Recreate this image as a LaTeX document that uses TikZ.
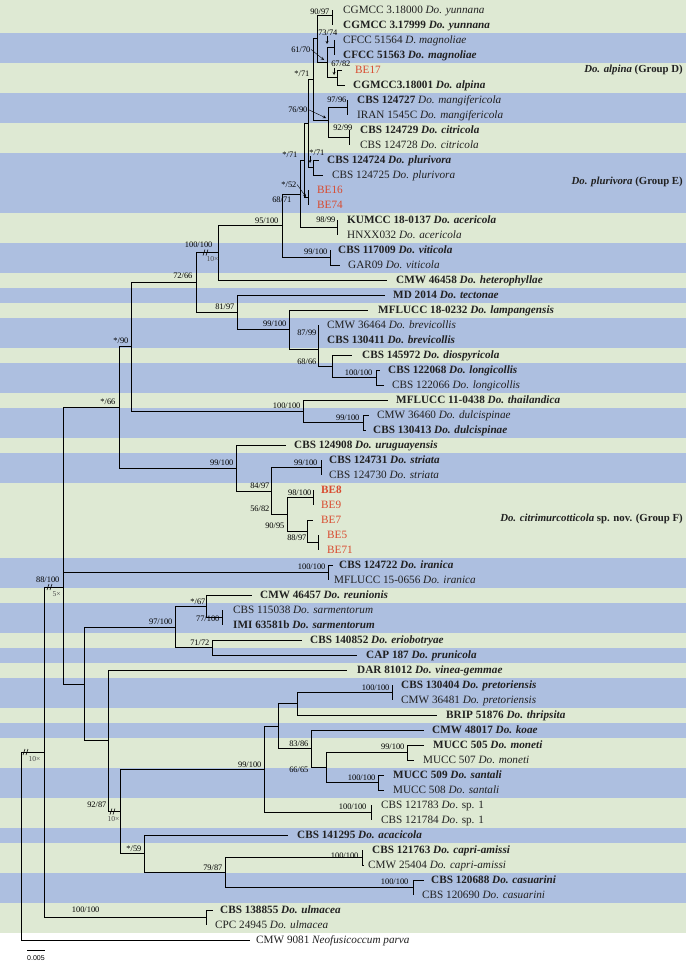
\documentclass[tikz,border=0pt]{standalone}
\usepackage{fontspec}
\setmainfont{Liberation Serif}
\setsansfont{Liberation Sans}
\newlength{\du}
\setlength{\du}{1\unitlength}
\definecolor{bandgreen}{rgb}{0.870, 0.914, 0.827}
\definecolor{bandblue}{rgb}{0.678, 0.749, 0.878}
\definecolor{isored}{rgb}{0.851, 0.290, 0.180}
\definecolor{txtgray}{rgb}{0.130, 0.130, 0.130}

\begin{document}
\begin{tikzpicture}[
  br/.style={line width=0.8pt, draw=black},
  lf/.style={anchor=west, inner sep=0pt, text height=8pt, text depth=1pt, text=txtgray, font=\fontsize{11.2}{13}\selectfont},
  bs/.style={anchor=south east, inner sep=0.4pt, text height=6pt, text depth=0pt, font=\fontsize{8.4}{9}\selectfont},
  tms/.style={anchor=north west, inner sep=0.4pt, text=black!70, font=\fontsize{7.6}{8}\selectfont},
  grp/.style={anchor=east, inner sep=0pt, text=txtgray, font=\fontsize{10.8}{12}\selectfont\bfseries},
  pt/.style={->, >=stealth, line width=0.4pt},
  brk/.style={line width=0.6pt}
]
\pgftransformxscale{1.000000}
\pgftransformyscale{-1.000000}
\useasboundingbox (0\du,0\du) rectangle (686\du,961\du);
% bands
\fill[white] (0\du,0\du) rectangle (686\du,961\du);
\fill[bandgreen] (0\du,0\du) rectangle (686\du,932.5\du);
\fill[bandblue] (0\du,32.5\du) rectangle (686\du,62.5\du);
\fill[bandblue] (0\du,92.5\du) rectangle (686\du,122.5\du);
\fill[bandblue] (0\du,152.5\du) rectangle (686\du,212.5\du);
\fill[bandblue] (0\du,242.5\du) rectangle (686\du,272.5\du);
\fill[bandblue] (0\du,287.5\du) rectangle (686\du,302.5\du);
\fill[bandblue] (0\du,317.5\du) rectangle (686\du,347.5\du);
\fill[bandblue] (0\du,362.5\du) rectangle (686\du,392.5\du);
\fill[bandblue] (0\du,407.5\du) rectangle (686\du,437.5\du);
\fill[bandblue] (0\du,452.5\du) rectangle (686\du,482.5\du);
\fill[bandblue] (0\du,557.5\du) rectangle (686\du,587.5\du);
\fill[bandblue] (0\du,602.5\du) rectangle (686\du,632.5\du);
\fill[bandblue] (0\du,647.5\du) rectangle (686\du,662.5\du);
\fill[bandblue] (0\du,677.5\du) rectangle (686\du,707.5\du);
\fill[bandblue] (0\du,722.5\du) rectangle (686\du,737.5\du);
\fill[bandblue] (0\du,767.5\du) rectangle (686\du,797.5\du);
\fill[bandblue] (0\du,827.5\du) rectangle (686\du,842.5\du);
\fill[bandblue] (0\du,872.5\du) rectangle (686\du,902.5\du);

% tips and taxa
\coordinate (t1) at (332\du,10\du);
\node[lf] (l1) at (343\du,10\du) {CGMCC 3.18000 \textit{Do. yunnana}};
\coordinate (t2) at (332\du,25\du);
\node[lf] (l2) at (343\du,25\du) {\textbf{CGMCC 3.17999 \textit{Do. yunnana}}};
\coordinate (t3) at (334\du,40\du);
\node[lf] (l3) at (343\du,40\du) {CFCC 51564 \textit{D. magnoliae}};
\coordinate (t4) at (334\du,55\du);
\node[lf] (l4) at (343\du,55\du) {\textbf{CFCC 51563 \textit{Do. magnoliae}}};
\coordinate (t5) at (342\du,70\du);
\node[lf, text=isored] (l5) at (355\du,70\du) {BE17};
\coordinate (t6) at (345\du,85\du);
\node[lf] (l6) at (353\du,85\du) {\textbf{CGMCC3.18001 \textit{Do. alpina}}};
\coordinate (t7) at (347\du,100\du);
\node[lf] (l7) at (357\du,100\du) {\textbf{CBS 124727} \textit{Do. mangifericola}};
\coordinate (t8) at (347\du,115\du);
\node[lf] (l8) at (357\du,115\du) {IRAN 1545C \textit{Do. mangifericola}};
\coordinate (t9) at (349\du,130\du);
\node[lf] (l9) at (360\du,130\du) {\textbf{CBS 124729 \textit{Do. citricola}}};
\coordinate (t10) at (349\du,145\du);
\node[lf] (l10) at (360\du,145\du) {CBS 124728 \textit{Do. citricola}};
\coordinate (t11) at (319\du,160\du);
\node[lf] (l11) at (327\du,160\du) {\textbf{CBS 124724 \textit{Do. plurivora}}};
\coordinate (t12) at (323\du,175\du);
\node[lf] (l12) at (332\du,175\du) {CBS 124725 \textit{Do. plurivora}};
\coordinate (t13) at (308\du,190\du);
\node[lf, text=isored] (l13) at (317\du,190\du) {BE16};
\coordinate (t14) at (308\du,205\du);
\node[lf, text=isored] (l14) at (317\du,205\du) {BE74};
\coordinate (t15) at (337\du,220\du);
\node[lf] (l15) at (347\du,220\du) {\textbf{KUMCC 18-0137 \textit{Do. acericola}}};
\coordinate (t16) at (337\du,235\du);
\node[lf] (l16) at (347\du,235\du) {HNXX032 \textit{Do. acericola}};
\coordinate (t17) at (330\du,250\du);
\node[lf] (l17) at (338\du,250\du) {\textbf{CBS 117009 \textit{Do. viticola}}};
\coordinate (t18) at (340\du,265\du);
\node[lf] (l18) at (348\du,265\du) {GAR09 \textit{Do. viticola}};
\coordinate (t19) at (387\du,280\du);
\node[lf] (l19) at (396\du,280\du) {\textbf{CMW 46458 \textit{Do. heterophyllae}}};
\coordinate (t20) at (385\du,295\du);
\node[lf] (l20) at (393\du,295\du) {\textbf{MD 2014 \textit{Do. tectonae}}};
\coordinate (t21) at (368\du,310\du);
\node[lf] (l21) at (378\du,310\du) {\textbf{MFLUCC 18-0232 \textit{Do. lampangensis}}};
\coordinate (t22) at (318\du,325\du);
\node[lf] (l22) at (327\du,325\du) {CMW 36464 \textit{Do. brevicollis}};
\coordinate (t23) at (318\du,340\du);
\node[lf] (l23) at (327\du,340\du) {\textbf{CBS 130411 \textit{Do. brevicollis}}};
\coordinate (t24) at (352\du,355\du);
\node[lf] (l24) at (362\du,355\du) {\textbf{CBS 145972 \textit{Do. diospyricola}}};
\coordinate (t25) at (380\du,370\du);
\node[lf] (l25) at (388\du,370\du) {\textbf{CBS 122068 \textit{Do. longicollis}}};
\coordinate (t26) at (384\du,385\du);
\node[lf] (l26) at (392\du,385\du) {CBS 122066 \textit{Do. longicollis}};
\coordinate (t27) at (388\du,400\du);
\node[lf] (l27) at (396\du,400\du) {\textbf{MFLUCC 11-0438 \textit{Do. thailandica}}};
\coordinate (t28) at (369\du,415\du);
\node[lf] (l28) at (377\du,415\du) {CMW 36460 \textit{Do. dulcispinae}};
\coordinate (t29) at (366\du,430\du);
\node[lf] (l29) at (373\du,430\du) {\textbf{CBS 130413 \textit{Do. dulcispinae}}};
\coordinate (t30) at (286\du,445\du);
\node[lf] (l30) at (294\du,445\du) {\textbf{CBS 124908 \textit{Do. uruguayensis}}};
\coordinate (t31) at (321\du,460\du);
\node[lf] (l31) at (329\du,460\du) {\textbf{CBS 124731 \textit{Do. striata}}};
\coordinate (t32) at (321\du,475\du);
\node[lf] (l32) at (329\du,475\du) {CBS 124730 \textit{Do. striata}};
\coordinate (t33) at (313\du,490\du);
\node[lf, text=isored] (l33) at (321\du,490\du) {\textbf{BE8}};
\coordinate (t34) at (313\du,505\du);
\node[lf, text=isored] (l34) at (321\du,505\du) {BE9};
\coordinate (t35) at (313\du,520\du);
\node[lf, text=isored] (l35) at (321\du,520\du) {BE7};
\coordinate (t36) at (318\du,535\du);
\node[lf, text=isored] (l36) at (327\du,535\du) {BE5};
\coordinate (t37) at (318\du,550\du);
\node[lf, text=isored] (l37) at (327\du,550\du) {BE71};
\coordinate (t38) at (333\du,565\du);
\node[lf] (l38) at (339\du,565\du) {\textbf{CBS 124722 \textit{Do. iranica}}};
\coordinate (t39) at (328\du,580\du);
\node[lf] (l39) at (334\du,580\du) {MFLUCC 15-0656 \textit{Do. iranica}};
\coordinate (t40) at (252\du,595\du);
\node[lf] (l40) at (260\du,595\du) {\textbf{CMW 46457 \textit{Do. reunionis}}};
\coordinate (t41) at (222\du,610\du);
\node[lf] (l41) at (233\du,610\du) {CBS 115038 \textit{Do. sarmentorum}};
\coordinate (t42) at (222\du,625\du);
\node[lf] (l42) at (233\du,625\du) {\textbf{IMI 63581b \textit{Do. sarmentorum}}};
\coordinate (t43) at (302\du,640\du);
\node[lf] (l43) at (310\du,640\du) {\textbf{CBS 140852 \textit{Do. eriobotryae}}};
\coordinate (t44) at (357\du,655\du);
\node[lf] (l44) at (366\du,655\du) {\textbf{CAP 187 \textit{Do. prunicola}}};
\coordinate (t45) at (347\du,670\du);
\node[lf] (l45) at (357\du,670\du) {\textbf{DAR 81012 \textit{Do. vinea-gemmae}}};
\coordinate (t46) at (392\du,685\du);
\node[lf] (l46) at (401\du,685\du) {\textbf{CBS 130404 \textit{Do. pretoriensis}}};
\coordinate (t47) at (392\du,700\du);
\node[lf] (l47) at (401\du,700\du) {CMW 36481 \textit{Do. pretoriensis}};
\coordinate (t48) at (437\du,715\du);
\node[lf] (l48) at (446\du,715\du) {\textbf{BRIP 51876 \textit{Do. thripsita}}};
\coordinate (t49) at (424\du,730\du);
\node[lf] (l49) at (432\du,730\du) {\textbf{CMW 48017 \textit{Do. koae}}};
\coordinate (t50) at (424\du,745\du);
\node[lf] (l50) at (433\du,745\du) {\textbf{MUCC 505 \textit{Do. moneti}}};
\coordinate (t51) at (414\du,760\du);
\node[lf] (l51) at (423\du,760\du) {MUCC 507 \textit{Do. moneti}};
\coordinate (t52) at (384\du,775\du);
\node[lf] (l52) at (393\du,775\du) {\textbf{MUCC 509 \textit{Do. santali}}};
\coordinate (t53) at (384\du,790\du);
\node[lf] (l53) at (393\du,790\du) {MUCC 508 \textit{Do. santali}};
\coordinate (t54) at (371\du,805\du);
\node[lf] (l54) at (381\du,805\du) {CBS 121783 \textit{Do}. sp. 1};
\coordinate (t55) at (371\du,820\du);
\node[lf] (l55) at (381\du,820\du) {CBS 121784 \textit{Do}. sp. 1};
\coordinate (t56) at (288\du,835\du);
\node[lf] (l56) at (297\du,835\du) {\textbf{CBS 141295 \textit{Do. acacicola}}};
\coordinate (t57) at (362\du,850\du);
\node[lf] (l57) at (372\du,850\du) {\textbf{CBS 121763 \textit{Do. capri-amissi}}};
\coordinate (t58) at (364\du,865\du);
\node[lf] (l58) at (368\du,865\du) {CMW 25404 \textit{Do. capri-amissi}};
\coordinate (t59) at (424\du,880\du);
\node[lf] (l59) at (431\du,880\du) {\textbf{CBS 120688 \textit{Do. casuarini}}};
\coordinate (t60) at (413\du,895\du);
\node[lf] (l60) at (422\du,895\du) {CBS 120690 \textit{Do. casuarini}};
\coordinate (t61) at (213\du,910\du);
\node[lf] (l61) at (220\du,910\du) {\textbf{CBS 138855 \textit{Do. ulmacea}}};
\coordinate (t62) at (206\du,925\du);
\node[lf] (l62) at (215\du,925\du) {CPC 24945 \textit{Do. ulmacea}};
\coordinate (t63) at (250\du,940\du);
\node[lf] (l63) at (256\du,940\du) {CMW 9081 \textit{Neofusicoccum parva}};

% internal nodes
\coordinate (a1) at (332\du,15\du);
\coordinate (a2) at (334\du,47.5\du);
\coordinate (a3) at (337\du,77.5\du);
\coordinate (a4) at (327\du,62.5\du);
\coordinate (a5) at (317\du,38.7\du);
\coordinate (a6) at (347\du,107.5\du);
\coordinate (a7) at (349\du,137.5\du);
\coordinate (a8) at (328\du,120\du);
\coordinate (a9) at (313\du,79.4\du);
\coordinate (a10) at (313\du,167.5\du);
\coordinate (c3) at (308\du,123.4\du);
\coordinate (a11) at (308\du,197.5\du);
\coordinate (c2) at (304\du,160.5\du);
\coordinate (ace) at (337\du,227.5\du);
\coordinate (c1) at (300\du,194\du);
\coordinate (vit) at (330\du,257.5\du);
\coordinate (p282) at (282\du,225.8\du);
\coordinate (h) at (218\du,252.4\du);
\coordinate (brev) at (318\du,332.5\du);
\coordinate (lon) at (376\du,377.5\du);
\coordinate (n332) at (332\du,366.2\du);
\coordinate (n318) at (318\du,349.4\du);
\coordinate (n289) at (289\du,329.7\du);
\coordinate (n237) at (237\du,312.3\du);
\coordinate (n196) at (196\du,282.4\du);
\coordinate (dul) at (363\du,422.5\du);
\coordinate (n303) at (303\du,411.2\du);
\coordinate (n131) at (131\du,346.8\du);
\coordinate (str) at (321\du,467.5\du);
\coordinate (b89) at (313\du,497.5\du);
\coordinate (b571) at (318\du,542.5\du);
\coordinate (n307) at (307\du,531.2\du);
\coordinate (n287) at (287\du,514.4\du);
\coordinate (n271) at (271\du,491\du);
\coordinate (n236) at (236\du,468\du);
\coordinate (n119) at (119\du,407.4\du);
\coordinate (ira) at (328\du,572.5\du);
\coordinate (k1) at (63\du,490\du);
\coordinate (sar) at (222\du,617.5\du);
\coordinate (n206) at (206\du,606.2\du);
\coordinate (n212) at (212\du,647.5\du);
\coordinate (n175) at (175\du,626.9\du);
\coordinate (pre) at (392\du,692.5\du);
\coordinate (n297) at (297\du,703.8\du);
\coordinate (mon) at (407\du,752.5\du);
\coordinate (san) at (378\du,782.5\du);
\coordinate (n326) at (326\du,767.5\du);
\coordinate (n311) at (311\du,748.8\du);
\coordinate (n278) at (278\du,726.2\du);
\coordinate (sp1) at (371\du,812.5\du);
\coordinate (n264) at (264\du,769.4\du);
\coordinate (cap) at (362\du,857.5\du);
\coordinate (cas) at (413\du,887.5\du);
\coordinate (n225) at (225\du,872.5\du);
\coordinate (n144) at (144\du,853.8\du);
\coordinate (n120) at (120\du,811.6\du);
\coordinate (n108) at (108\du,740.8\du);
\coordinate (n84) at (84\du,683.9\du);
\coordinate (k) at (63\du,587\du);
\coordinate (ulm) at (206\du,917.5\du);
\coordinate (i44) at (44\du,752.2\du);
\coordinate (root) at (21\du,846\du);

% branches
\draw[br] (a1) |- (t1) (a1) |- (t2);
\draw[br] (a2) |- (t3) (a2) |- (t4);
\draw[br] (a3) |- (t5) (a3) |- (t6);
\draw[br] (a4) |- (a2) (a4) |- (a3);
\draw[br] (a5) |- (a1) (a5) |- (a4);
\draw[br] (a6) |- (t7) (a6) |- (t8);
\draw[br] (a7) |- (t9) (a7) |- (t10);
\draw[br] (a8) |- (a6) (a8) |- (a7);
\draw[br] (a9) |- (a5) (a9) |- (a8);
\draw[br] (a10) |- (t11) (a10) |- (t12);
\draw[br] (c3) |- (a9) (c3) |- (a10);
\draw[br] (a11) |- (t13) (a11) |- (t14);
\draw[br] (c2) |- (c3) (c2) |- (a11);
\draw[br] (ace) |- (t15) (ace) |- (t16);
\draw[br] (c1) |- (c2) (c1) |- (ace);
\draw[br] (vit) |- (t17) (vit) |- (t18);
\draw[br] (p282) |- (c1) (p282) |- (vit);
\draw[br] (h) |- (p282) (h) |- (t19);
\draw[br] (brev) |- (t22) (brev) |- (t23);
\draw[br] (lon) |- (t25) (lon) |- (t26);
\draw[br] (n332) |- (t24) (n332) |- (lon);
\draw[br] (n318) |- (brev) (n318) |- (n332);
\draw[br] (n289) |- (t21) (n289) |- (n318);
\draw[br] (n237) |- (t20) (n237) |- (n289);
\draw[br] (n196) |- (h) (n196) |- (n237);
\draw[br] (dul) |- (t28) (dul) |- (t29);
\draw[br] (n303) |- (t27) (n303) |- (dul);
\draw[br] (n131) |- (n196) (n131) |- (n303);
\draw[br] (str) |- (t31) (str) |- (t32);
\draw[br] (b89) |- (t33) (b89) |- (t34);
\draw[br] (b571) |- (t36) (b571) |- (t37);
\draw[br] (n307) |- (t35) (n307) |- (b571);
\draw[br] (n287) |- (b89) (n287) |- (n307);
\draw[br] (n271) |- (str) (n271) |- (n287);
\draw[br] (n236) |- (t30) (n236) |- (n271);
\draw[br] (n119) |- (n131) (n119) |- (n236);
\draw[br] (ira) |- (t38) (ira) |- (t39);
\draw[br] (k1) |- (n119) (k1) |- (ira);
\draw[br] (sar) |- (t41) (sar) |- (t42);
\draw[br] (n206) |- (t40) (n206) |- (sar);
\draw[br] (n212) |- (t43) (n212) |- (t44);
\draw[br] (n175) |- (n206) (n175) |- (n212);
\draw[br] (pre) |- (t46) (pre) |- (t47);
\draw[br] (n297) |- (pre) (n297) |- (t48);
\draw[br] (mon) |- (t50) (mon) |- (t51);
\draw[br] (san) |- (t52) (san) |- (t53);
\draw[br] (n326) |- (mon) (n326) |- (san);
\draw[br] (n311) |- (t49) (n311) |- (n326);
\draw[br] (n278) |- (n297) (n278) |- (n311);
\draw[br] (sp1) |- (t54) (sp1) |- (t55);
\draw[br] (n264) |- (n278) (n264) |- (sp1);
\draw[br] (cap) |- (t57) (cap) |- (t58);
\draw[br] (cas) |- (t59) (cas) |- (t60);
\draw[br] (n225) |- (cap) (n225) |- (cas);
\draw[br] (n144) |- (t56) (n144) |- (n225);
\draw[br] (n120) |- (n264) (n120) |- (n144);
\draw[br] (n108) |- (t45) (n108) |- (n120);
\draw[br] (n84) |- (n175) (n84) |- (n108);
\draw[br] (k) |- (k1) (k) |- (n84);
\draw[br] (ulm) |- (t61) (ulm) |- (t62);
\draw[br] (i44) |- (k) (i44) |- (ulm);
\draw[br] (root) |- (i44) (root) |- (t63);

% shortened branches
\draw[brk] (23\du,755\du) -- (25\du,749\du) (26\du,755\du) -- (28\du,749\du);
\node[tms] (x1) at (28\du,756\du) {10×};
\draw[brk] (47\du,590\du) -- (49\du,584\du) (50\du,590\du) -- (52\du,584\du);
\node[tms] (x2) at (52\du,591\du) {5×};
\draw[brk] (203\du,255.5\du) -- (205\du,249.5\du) (206\du,255.5\du) -- (208\du,249.5\du);
\node[tms] (x3) at (206\du,256\du) {10×};
\draw[brk] (110\du,814.5\du) -- (112\du,808.5\du) (113\du,814.5\du) -- (115\du,808.5\du);
\node[tms] (x4) at (107\du,816\du) {10×};

% support values
\node[bs] (s1) at (330\du,15\du) {90/97};
\node[bs] (s2) at (338\du,36\du) {73/74};
\node[bs] (s3) at (311\du,53\du) {61/70};
\node[bs] (s4) at (351\du,67.5\du) {67/82};
\node[bs] (s5) at (310\du,77\du) {*/71};
\node[bs] (s6) at (308\du,113\du) {76/90};
\node[bs] (s7) at (347\du,103\du) {97/96};
\node[bs] (s8) at (353\du,131\du) {92/99};
\node[bs] (s9) at (298\du,158\du) {*/71};
\node[bs] (s10) at (325\du,156\du) {*/71};
\node[bs] (s11) at (297\du,188\du) {*/52};
\node[bs, anchor=north east] (s12) at (292\du,196\du) {68/71};
\node[bs] (s13) at (279\du,224\du) {95/100};
\node[bs] (s14) at (336\du,223\du) {98/99};
\node[bs] (s15) at (328\du,255\du) {99/100};
\node[bs] (s16) at (213\du,248\du) {100/100};
\node[bs] (s17) at (193\du,279\du) {72/66};
\node[bs] (s18) at (235\du,310\du) {81/97};
\node[bs] (s19) at (287\du,327\du) {99/100};
\node[bs] (s20) at (317\du,336\du) {87/99};
\node[bs] (s21) at (317\du,365\du) {68/66};
\node[bs] (s22) at (373\du,376\du) {100/100};
\node[bs] (s23) at (129\du,344\du) {*/90};
\node[bs] (s24) at (116\du,405\du) {*/66};
\node[bs] (s25) at (301\du,409\du) {100/100};
\node[bs] (s26) at (360\du,421\du) {99/100};
\node[bs] (s27) at (234\du,466\du) {99/100};
\node[bs] (s28) at (318\du,466\du) {99/100};
\node[bs] (s29) at (270\du,489\du) {84/97};
\node[bs] (s30) at (312\du,496\du) {98/100};
\node[bs] (s31) at (270\du,512\du) {56/82};
\node[bs] (s32) at (285\du,529\du) {90/95};
\node[bs] (s33) at (307\du,541\du) {88/97};
\node[bs] (s34) at (326\du,570\du) {100/100};
\node[bs] (s35) at (60\du,583\du) {88/100};
\node[bs] (s36) at (206\du,605\du) {*/67};
\node[bs] (s37) at (220\du,622\du) {77/100};
\node[bs] (s38) at (173\du,625\du) {97/100};
\node[bs] (s39) at (210\du,646\du) {71/72};
\node[bs] (s40) at (390\du,691\du) {100/100};
\node[bs] (s41) at (309\du,747\du) {83/86};
\node[bs] (s42) at (405\du,750\du) {99/100};
\node[bs] (s43) at (309\du,773\du) {66/65};
\node[bs] (s44) at (376\du,781\du) {100/100};
\node[bs] (s45) at (262\du,768\du) {99/100};
\node[bs] (s46) at (367\du,810\du) {100/100};
\node[bs] (s47) at (107\du,808\du) {92/87};
\node[bs] (s48) at (142\du,852\du) {*/59};
\node[bs] (s49) at (359\du,859\du) {100/100};
\node[bs] (s50) at (223\du,871\du) {79/87};
\node[bs] (s51) at (409\du,885\du) {100/100};
\node[bs] (s52) at (100\du,913\du) {100/100};

% pointers from crowded values
\draw[pt] (327\du,36\du) -- (327\du,44\du);
\draw[pt] (s3.east) -- (324\du,60\du);
\draw[pt] (334\du,68\du) -- (334\du,75\du);
\draw[pt] (s6.east) -- (326\du,118\du);
\draw[pt] (310\du,156\du) -- (310\du,163\du);
\draw[pt] (s11.east) -- (306\du,197\du);

% groups
\node[grp] (g1) at (683\du,70\du) {\textit{Do. alpina} (Group D)};
\node[grp] (g2) at (683\du,182\du) {\textit{Do. plurivora} (Group E)};
\node[grp] (g3) at (683\du,519\du) {\textit{Do. citrimurcotticola} sp. nov. (Group F)};

% scale
\coordinate (sb1) at (27\du,950\du);
\coordinate (sb2) at (45\du,950\du);
\draw[br] (sb1) -- (sb2);
\node[font=\sffamily\fontsize{7}{8}\selectfont, inner sep=0pt] (sb) at (36\du,958\du) {0.005};
\end{tikzpicture}
\end{document}
